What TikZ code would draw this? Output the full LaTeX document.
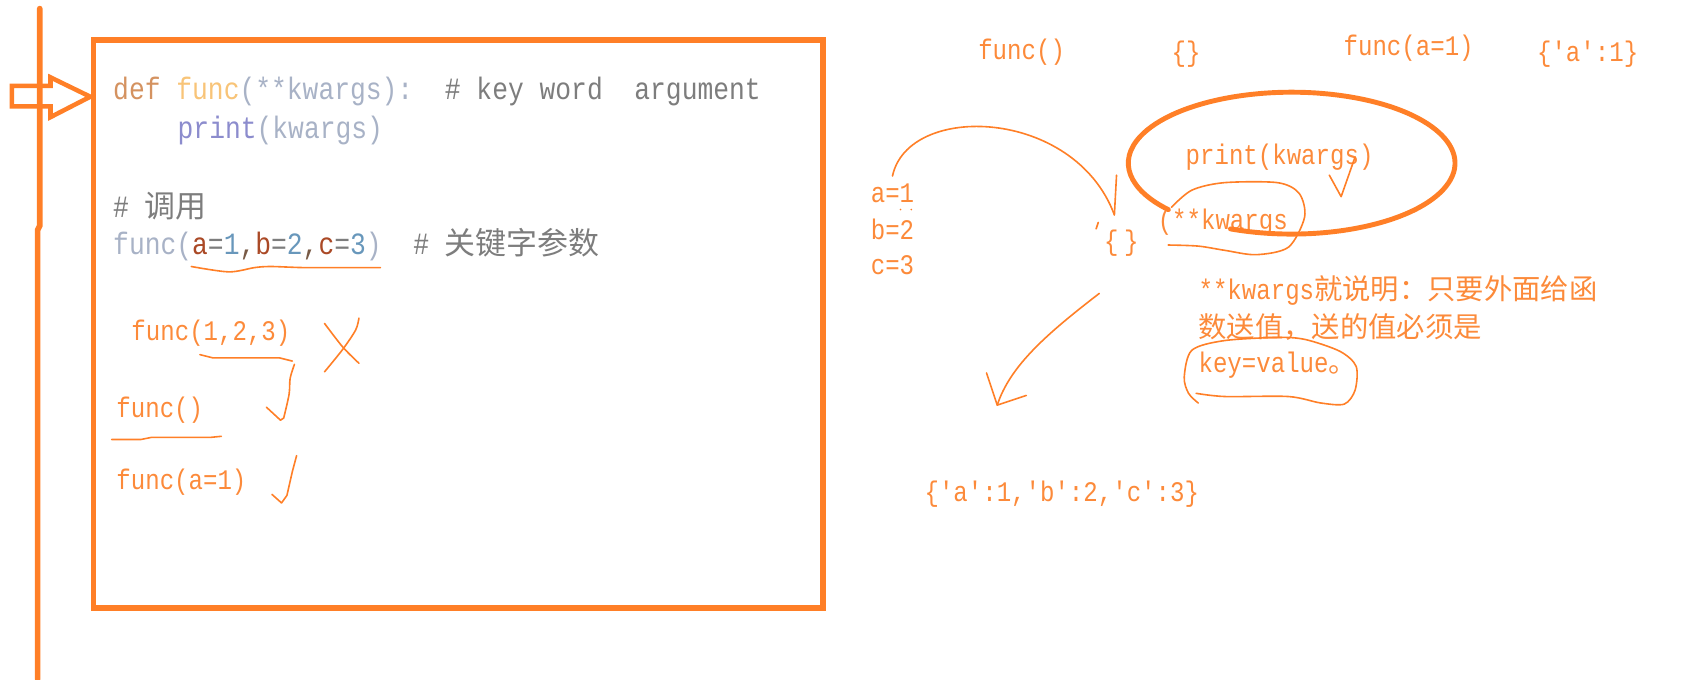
\documentclass[tikz,border=0pt]{standalone}
\usepackage{fontspec}
\newfontfamily\pyfont[FakeStretch=0.85]{Liberation Mono}
\newfontfamily\cjk{Noto Sans CJK SC}
\usepackage{xcolor}
\usepackage{tikz}
\definecolor{penorange}{RGB}{255,127,39}
\definecolor{inkorange}{RGB}{252,138,58}
\definecolor{kwdef}{RGB}{212,146,96}
\definecolor{fnyellow}{RGB}{248,196,120}
\definecolor{parmgray}{RGB}{168,178,198}
\definecolor{cmtgray}{RGB}{125,125,125}
\definecolor{builtin}{RGB}{140,140,205}
\definecolor{argred}{RGB}{170,73,38}
\definecolor{numblue}{RGB}{104,151,187}
\definecolor{commabrown}{RGB}{120,90,70}

\begin{document}
\begin{tikzpicture}[
    x=0.02cm, y=-0.02cm,
    code/.style={anchor=west, inner sep=0pt, font=\fontsize{16.4pt}{19pt}\selectfont\pyfont},
    ann/.style={anchor=west, inner sep=0pt, text=inkorange, font=\fontsize{15pt}{18pt}\selectfont\pyfont},
    pen/.style={draw=penorange, line width=0.85pt, line cap=round, line join=round},
    marker/.style={draw=penorange, line width=3pt},
    every path/.style={line cap=round}
  ]
    \path[use as bounding box] (0,0) rectangle (1568,632);

    % margin line, pointer and code frame
    \draw[marker] (37,8) -- (37,210) -- (35,214) -- (35,632);
    \draw[marker, line width=2.4pt, line join=miter] (11,80) -- (47,80) -- (47,72) -- (84,90) -- (47,109) -- (47,99) -- (11,99) -- cycle;
    \draw[marker, line cap=butt] (87,37) rectangle (766,566);

    \node[code] (defline) at (105,85) {\color{kwdef}def \color{fnyellow}func\color{parmgray}(**kwargs):~~\color{cmtgray}\# key word~~argument};
    \node[code] (printline) at (165,121) {\color{builtin}print\color{parmgray}(kwargs)};
    \node[code] (callnote) at (105,192) {\color{cmtgray}\# {\cjk 调用}};
    \node[code] (callline) at (105,228) {\color{parmgray}func(\color{argred}a\color{cmtgray}=\color{numblue}1\color{commabrown},\color{argred}b\color{cmtgray}=\color{numblue}2\color{commabrown},\color{argred}c\color{cmtgray}=\color{numblue}3\color{parmgray})~~\color{cmtgray}\# {\cjk 关键字参数}};

    \node[ann] (bad) at (122,310) {func(1,2,3)};
    \node[ann] (empty) at (108,382) {func()};
    \node[ann] (single) at (108,449) {func(a=1)};

    % marks on the left
    \draw[pen] plot[smooth] coordinates {(178,248) (213,253) (237,249) (252,248) (282,249) (322,249) (354,249)};
    \draw[pen] (186,330) -- (198,333) -- (260,333) -- (272,336);
    \draw[pen] plot[smooth] coordinates {(274,339) (270,352) (269,367) (264,389)} -- (261,391) -- (248,379);
    \draw[pen] plot[smooth] coordinates {(302,301) (319,323) (334,338)};
    \draw[pen] plot[smooth] coordinates {(334,296) (331,307) (319,325) (302,346)};
    \draw[pen] (104,409) -- (131,409) -- (141,407) -- (196,407) -- (206,406);
    \draw[pen] (253,460) -- (262,468) -- (267,461) -- (272,439) -- (276,424);

    % right side
    \node[ann] (emptyR) at (910,49) {func()};
    \node[ann] (emptyD) at (1090,50) {\{\}};
    \node[ann] (singleR) at (1250,45) {func(a=1)};
    \node[ann] (singleD) at (1430,50) {\{'a':1\}};
    \node[ann] (body) at (1103,146) {print(kwargs)};
    \node[ann] (star) at (1077,207) {(**kwargs};
    \node[ann] (va) at (810,180) {a=1};
    \node[ann] (vb) at (810,213) {b=2};
    \node[ann] (vc) at (810,247) {c=3};
    \node[ann] (brace) at (1027,226) {\{\hspace{3pt}\}};
    \node[ann] (note1) at (1115,270) {**kwargs{\cjk 就说明：只要外面给函}};
    \node[ann] (note2) at (1115,304) {{\cjk 数送值，送的值必须是}};
    \node[ann] (note3) at (1115,340) {key=value{\cjk 。}};
    \node[ann] (dict) at (860,460) {\{'a':1,'b':2,'c':3\}};

    \fill[penorange] (838,195) circle[radius=0.5pt] (848,195) circle[radius=0.5pt];
    \draw[pen] (1022,207) -- (1020,213);

    \coordinate (dropA) at (1037,200);
    \coordinate (fromB) at (1023,273);
    \coordinate (tipB) at (928,377);

    \draw[pen] ([yshift=4pt]va.north) .. controls (845,95) and (1000,100) .. (dropA);
    \draw[pen] (1039,163) -- (dropA);
    \draw[pen] (fromB) .. controls (975,310) and (940,340) .. (tipB);
    \draw[pen] (918,347) -- (tipB) -- (955,368);

    \draw[marker, line width=2.6pt] (1145,213) arc[start angle=112, end angle=-221, x radius=152, y radius=66];
    \draw[pen] plot[smooth] coordinates {(1087,228) (1115,229) (1140,233) (1169,237) (1199,230) (1214,202) (1209,180) (1189,170) (1139,170) (1109,177) (1090,193)};
    \draw[pen] (1237,163) -- (1248,183) -- (1261,146);
    \draw[pen] plot[smooth] coordinates {(1113,366) (1140,369) (1199,369) (1229,375) (1251,376) (1261,363) (1262,341) (1247,327) (1215,316) (1189,314) (1139,317) (1109,326) (1102,351) (1106,366) (1115,375)};
  \end{tikzpicture}
\end{document}
